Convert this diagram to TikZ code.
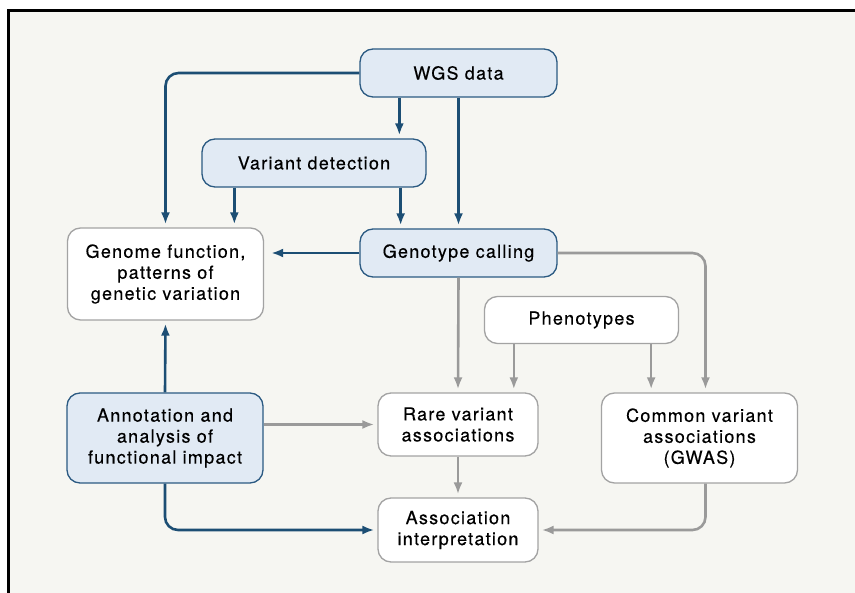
\documentclass[tikz,border=0pt]{standalone}
\usepackage{fontspec}
\setmainfont[LetterSpace=7, FakeBold=0.35]{TeX Gyre Heros}
\usetikzlibrary{positioning, arrows.meta}
\definecolor{panelbg}{HTML}{F6F6F2}
\definecolor{stagefill}{HTML}{E1EAF4}
\definecolor{stageline}{HTML}{2B5A82}
\definecolor{flowblue}{HTML}{1C4E74}
\definecolor{flowgray}{HTML}{9A9A9A}
\definecolor{resline}{HTML}{A3A3A3}
\tikzset{>={Latex[length=12pt,width=9pt]}}
\tikzset{
    stage/.style = {rectangle, rounded corners=13pt, draw=stageline, fill=stagefill, line width=1.3pt,
                        inner sep=0pt, align=center, font=\fontsize{18}{21}\selectfont},
    result/.style = {stage, draw=resline, fill=white},
    blueflow/.style = {->, draw=flowblue, line width=2.6pt, rounded corners=13pt, shorten >=3pt},
    grayflow/.style = {blueflow, draw=flowgray}
}

\begin{document}
\begin{tikzpicture}[x=1pt, y=-1pt]
		\useasboundingbox (0,0) rectangle (855,593);
		\fill [panelbg] (8,11) rectangle (855,593);
		\draw [line width=3pt] (8,600) -- (8,11) -- (860,11);
		\node (wgs) [stage, minimum width=197, minimum height=48] at (458.5,73) {WGS data};
		\node (vd) [stage, minimum width=224, minimum height=48] at (314,163) {Variant detection};
		\node (genome) [result, minimum width=196, minimum height=92] at (165.5,274) {Genome function,\\patterns of\\genetic variation};
		\node (geno) [stage, minimum width=197, minimum height=48] at (458.5,253) {Genotype calling};
		\node (phen) [result, minimum width=194, minimum height=47] at (581.5,320) {Phenotypes};
		\node (annot) [stage, minimum width=196, minimum height=90] at (165,438) {Annotation and\\analysis of\\functional impact};
		\node (rare) [result, minimum width=160, minimum height=63] at (458,424.5) {Rare variant\\associations};
		\node (common) [result, minimum width=196, minimum height=90] at (699.5,438) {Common variant\\associations\\(GWAS)};
		\node (assoc) [result, minimum width=160, minimum height=64] at (458,530) {Association\\interpretation};
		\draw [blueflow] (wgs.west) -| (genome.north);
		\draw [blueflow] ([xshift=40]wgs.south west) -- ([xshift=40]wgs.south west |- vd.north);
		\draw [blueflow] (wgs.south) -- (geno.north);
		\draw [blueflow] ([xshift=33]vd.south west) -- ([xshift=33]vd.south west |- genome.north);
		\draw [blueflow] ([xshift=-26]vd.south east) -- ([xshift=-26]vd.south east |- geno.north);
		\draw [blueflow, shorten >=7pt] (geno.west) -- (geno.west -| genome.east);
		\draw [blueflow] (annot.north) -- (genome.south);
		\draw [blueflow] (annot.south) |- (assoc.west);
		\draw [grayflow] (geno.east) -| ([xshift=6]common.north);
		\draw [grayflow] (geno.south) -- (rare.north);
		\draw [grayflow] ([xshift=30]phen.south west) -- ([xshift=30]phen.south west |- rare.north);
		\draw [grayflow] ([xshift=-28]phen.south east) -- ([xshift=-28]phen.south east |- common.north);
		\draw [grayflow] (annot.east |- rare.west) -- (rare.west);
		\draw [grayflow] (rare.south) -- (assoc.north);
		\draw [grayflow] ([xshift=6]common.south) |- (assoc.east);
	\end{tikzpicture}
\end{document}
